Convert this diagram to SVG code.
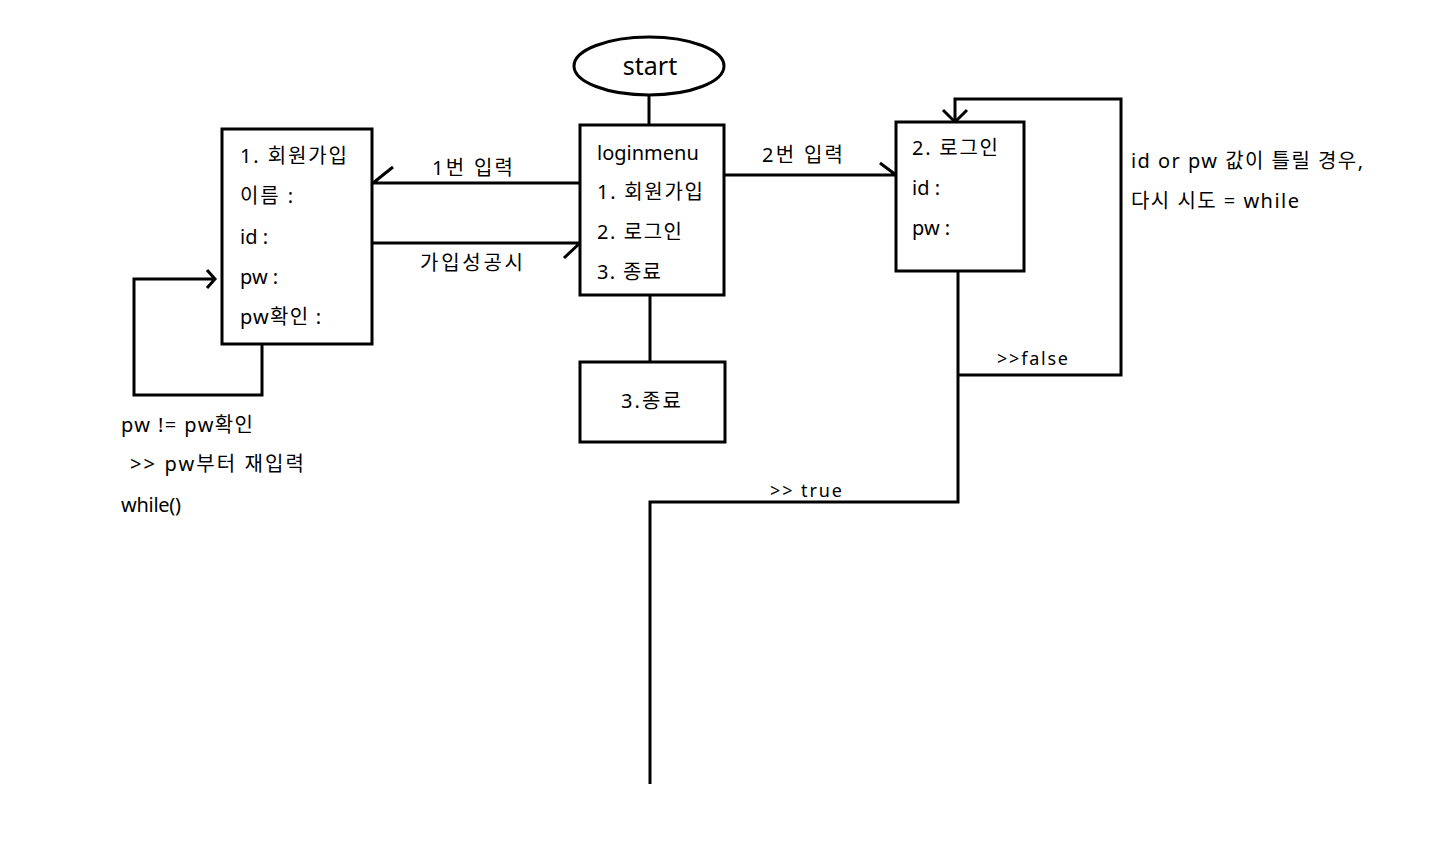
<svg xmlns="http://www.w3.org/2000/svg" width="1435" height="847" viewBox="0 0 1435 847">
<style>
.s{fill:none;stroke:#000;stroke-width:3}
.b{fill:#fff;stroke:#000;stroke-width:3}
text{font-family:"Noto Sans","Noto Sans CJK KR",sans-serif;font-size:20px;fill:#000}
.sm{font-size:18px}
</style>
<rect width="1435" height="847" fill="#fff"/>
<g id="connectors">
<path class="s" d="M649 95V125"/>
<path class="s" d="M580 183H373M373 183L393 167"/>
<path class="s" d="M372 243H580M580 243L564 258"/>
<path class="s" d="M724 175H896M880 163L896 175"/>
<path class="s" d="M955 122V99H1121V375H958"/>
<path class="s" d="M943 110L955 122L967 110"/>
<path class="s" d="M958 271V502H650V784"/>
<path class="s" d="M650 295V362"/>
<path class="s" d="M262 344V395H134V279H215M207 270L215 279L207 288"/>
<text x="432" y="175" textLength="81" lengthAdjust="spacing">1번 입력</text>
<text x="420" y="270" textLength="103" lengthAdjust="spacing">가입성공시</text>
<text x="762" y="162" textLength="81" lengthAdjust="spacing">2번 입력</text>
<text class="sm" x="997" y="365" textLength="71" lengthAdjust="spacing">&gt;&gt;false</text>
<text class="sm" x="770" y="497" textLength="72" lengthAdjust="spacing">&gt;&gt; true</text>
<text x="1131" y="168" textLength="232" lengthAdjust="spacing">id or pw 값이 틀릴 경우,</text>
<text x="1131" y="208" textLength="168" lengthAdjust="spacing">다시 시도 = while</text>
<text x="121" y="432" textLength="132" lengthAdjust="spacing">pw != pw확인</text>
<text x="130" y="471" textLength="174" lengthAdjust="spacing">&gt;&gt; pw부터 재입력</text>
<text x="121" y="512" textLength="60" lengthAdjust="spacing">while()</text>
</g>
<g id="start">
<ellipse class="b" cx="649" cy="66" rx="75" ry="29"/>
<text x="650" y="75" text-anchor="middle" style="font-size:25px">start</text>
</g>
<g id="loginmenu">
<rect class="b" x="580" y="125" width="144" height="170"/>
<text x="597" y="160">loginmenu</text>
<text x="597" y="199" textLength="106" lengthAdjust="spacing">1. 회원가입</text>
<text x="597" y="239" textLength="85" lengthAdjust="spacing">2. 로그인</text>
<text x="597" y="279" textLength="64" lengthAdjust="spacing">3. 종료</text>
</g>
<g id="signup">
<rect class="b" x="222" y="129" width="150" height="215"/>
<text x="240" y="163" textLength="107" lengthAdjust="spacing">1. 회원가입</text>
<text x="240" y="203" textLength="53" lengthAdjust="spacing">이름 :</text>
<text x="240" y="244">id :</text>
<text x="240" y="284">pw :</text>
<text x="240" y="324" textLength="81" lengthAdjust="spacing">pw확인 :</text>
</g>
<g id="login">
<rect class="b" x="896" y="122" width="128" height="149"/>
<text x="912" y="155" textLength="86" lengthAdjust="spacing">2. 로그인</text>
<text x="912" y="195">id :</text>
<text x="912" y="235">pw :</text>
</g>
<g id="exit">
<rect class="b" x="580" y="362" width="145" height="80"/>
<text x="621" y="408" textLength="60" lengthAdjust="spacing">3.종료</text>
</g>
</svg>
